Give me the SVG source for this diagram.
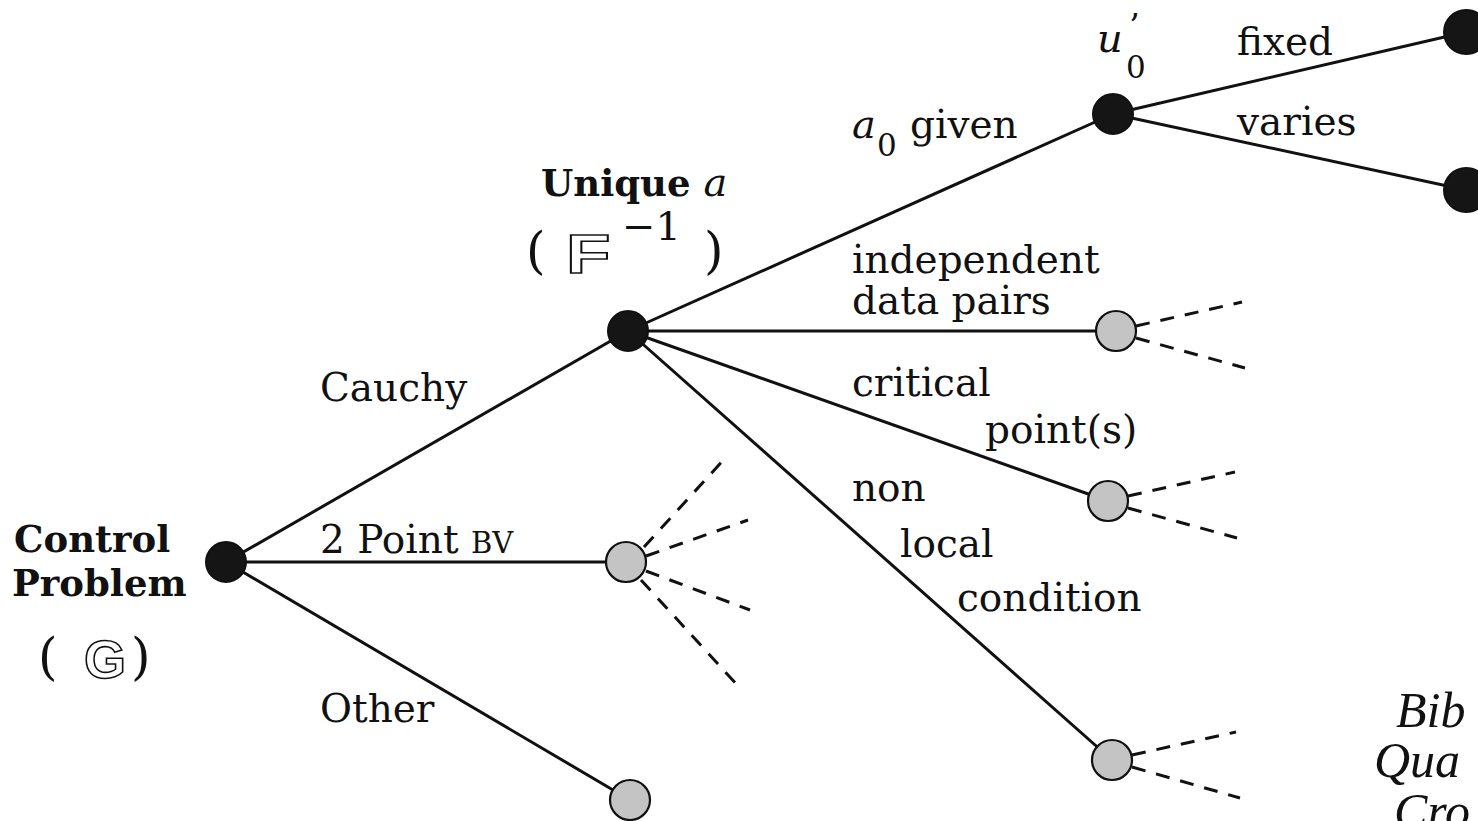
<svg xmlns="http://www.w3.org/2000/svg" width="1478" height="821" viewBox="0 0 1478 821">
<style>
.t{font-family:"DejaVu Serif","Liberation Serif",serif;font-size:39px;fill:#111}
.b{font-family:"DejaVu Serif","Liberation Serif",serif;font-size:37px;font-weight:bold;fill:#111}
.o{font-family:"Liberation Sans","DejaVu Sans",sans-serif;font-weight:bold;fill:#fff;stroke:#111;stroke-width:1.6}
.e{stroke:#111;stroke-width:3;fill:none}
.d{stroke:#111;stroke-width:3;fill:none;stroke-dasharray:14 11}
.blk{fill:#151515;stroke:#111;stroke-width:2}
.gr{fill:#c4c4c4;stroke:#111;stroke-width:2.2}
.s{font-family:"DejaVu Serif","Liberation Serif",serif;font-style:italic;font-size:40px;fill:#111}
.n{font-family:"Liberation Serif","DejaVu Serif",serif;font-style:italic;font-size:50px;fill:#111}
</style>
<rect width="1478" height="821" fill="#fff"/>
<g id="connectors">
<line class="e" x1="226" y1="562" x2="628" y2="331"/>
<line class="e" x1="226" y1="562" x2="626" y2="562"/>
<line class="e" x1="226" y1="562" x2="630" y2="800"/>
<line class="e" x1="628" y1="331" x2="1113" y2="114"/>
<line class="e" x1="628" y1="331" x2="1116" y2="331"/>
<line class="e" x1="628" y1="331" x2="1108" y2="501"/>
<line class="e" x1="628" y1="331" x2="1112" y2="760"/>
<line class="e" x1="1113" y1="114" x2="1466" y2="32"/>
<line class="e" x1="1113" y1="114" x2="1466" y2="190"/>
<line class="d" x1="644" y1="547" x2="728" y2="455"/>
<line class="d" x1="646" y1="556" x2="748" y2="520"/>
<line class="d" x1="646" y1="571" x2="750" y2="610"/>
<line class="d" x1="641" y1="580" x2="740" y2="688"/>
<line class="d" x1="1136" y1="326" x2="1242" y2="302"/>
<line class="d" x1="1136" y1="338" x2="1245" y2="368"/>
<line class="d" x1="1128" y1="496" x2="1235" y2="472"/>
<line class="d" x1="1128" y1="508" x2="1237" y2="538"/>
<line class="d" x1="1132" y1="755" x2="1236" y2="732"/>
<line class="d" x1="1132" y1="767" x2="1240" y2="798"/>
</g>
<g id="labels">
<text class="t" x="320" y="401">Cauchy</text>
<text class="t" x="320" y="553">2 Point <tspan style="font-size:29px">BV</tspan></text>
<text class="t" x="320" y="722">Other</text>
<text class="s" x="852" y="138">a</text>
<text class="t" x="877" y="156" style="font-size:31px">0</text>
<text class="t" x="910" y="138">given</text>
<text class="t" x="852" y="273">independent</text>
<text class="t" x="852" y="314">data pairs</text>
<text class="t" x="852" y="396">critical</text>
<text class="t" x="985" y="443">point(s)</text>
<text class="t" x="852" y="501">non</text>
<text class="t" x="900" y="557">local</text>
<text class="t" x="957" y="611">condition</text>
<text class="t" x="1237" y="55">fixed</text>
<text class="t" x="1237" y="135">varies</text>
</g>
<g id="node-control">
<circle class="blk" cx="226" cy="562" r="20"/>
<text class="b" x="14" y="552">Control</text>
<text class="b" x="12" y="596">Problem</text>
<text class="t" x="38" y="674" style="font-size:50px">(</text>
<text class="o" x="84" y="678" style="font-size:54px">G</text>
<text class="t" x="131" y="674" style="font-size:50px">)</text>
</g>
<g id="node-unique">
<circle class="blk" cx="628" cy="331" r="20"/>
<text class="b" x="541" y="196">Unique <tspan class="s" style="font-weight:normal">a</tspan></text>
<text class="t" x="526" y="268" style="font-size:50px">(</text>
<text class="o" transform="translate(566 273) scale(1.3 1)" x="0" y="0" style="font-size:56px">F</text>
<text class="t" x="622" y="240" style="font-size:40px">−1</text>
<text class="t" x="704" y="268" style="font-size:50px">)</text>
</g>
<g id="node-u0">
<circle class="blk" cx="1113" cy="114" r="20"/>
<text class="s" x="1097" y="52">u</text>
<text class="t" x="1129" y="38" style="font-size:34px">’</text>
<text class="t" x="1126" y="78" style="font-size:31px">0</text>
</g>
<g id="node-fixed"><circle class="blk" cx="1466" cy="32" r="22"/></g>
<g id="node-varies"><circle class="blk" cx="1466" cy="190" r="22"/></g>
<g id="node-2pt"><circle class="gr" cx="626" cy="562" r="20"/></g>
<g id="node-other"><circle class="gr" cx="630" cy="800" r="20"/></g>
<g id="node-indep"><circle class="gr" cx="1116" cy="331" r="20"/></g>
<g id="node-crit"><circle class="gr" cx="1108" cy="501" r="20"/></g>
<g id="node-nonlocal"><circle class="gr" cx="1112" cy="760" r="20"/></g>
<g id="note">
<text class="n" x="1396" y="727">Bib</text>
<text class="n" x="1374" y="777">Qua</text>
<text class="n" x="1394" y="828">Cro</text>
</g>
</svg>
